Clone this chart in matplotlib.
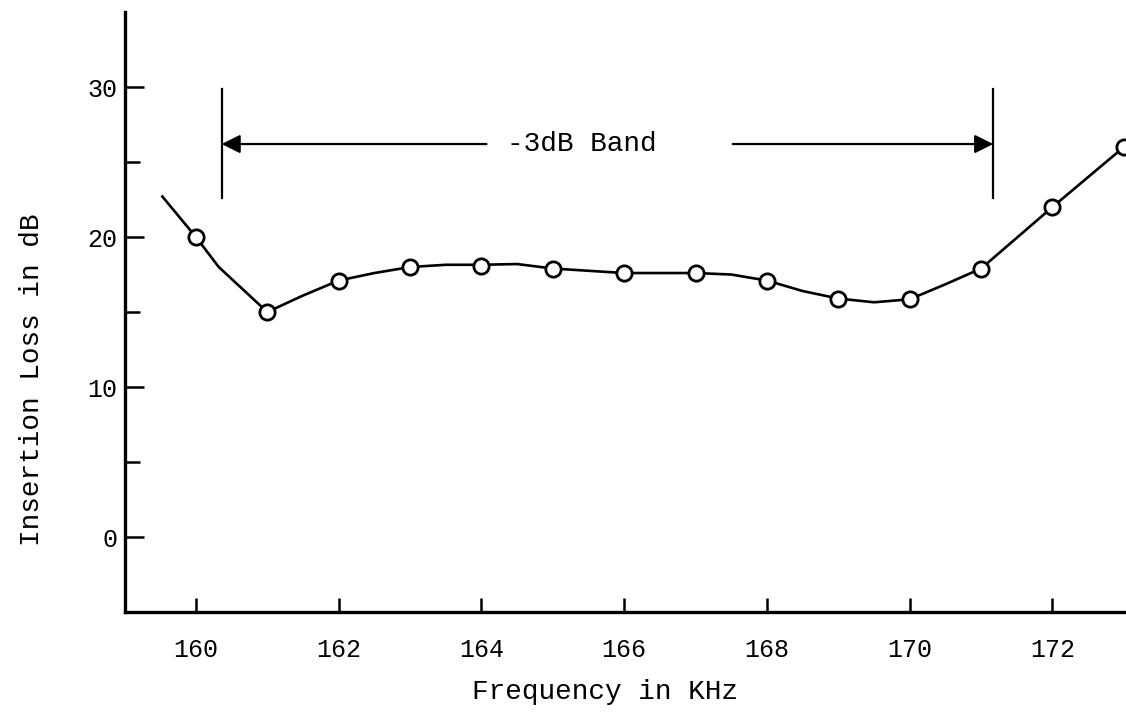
import matplotlib
matplotlib.use("Agg")
import matplotlib.pyplot as plt

# measured points (KHz, dB)
freq = [160, 161, 162, 163, 164, 165, 166, 167, 168, 169, 170, 171, 172, 173]
loss = [20.0, 15.0, 17.1, 18.0, 18.1, 17.9, 17.6, 17.6, 17.1, 15.9, 15.85, 17.9, 22.0, 26.0]

# hand-drawn smooth curve
curve_f = [159.53, 160, 160.32, 161, 161.5, 162, 162.5, 163, 163.5, 164, 164.5,
           165, 165.5, 166, 166.5, 167, 167.5, 168, 168.5, 169, 169.5, 170,
           170.5, 171, 171.5, 172, 172.5, 173]
curve_l = [22.7, 20.0, 18.0, 15.0, 16.1, 17.1, 17.6, 18.0, 18.15, 18.15, 18.2,
           17.9, 17.75, 17.6, 17.6, 17.6, 17.5, 17.1, 16.4, 15.9, 15.65, 15.85,
           16.85, 17.9, 19.95, 22.0, 24.0, 26.0]

# -3dB band markers
band_edges = [160.36, 171.17]
band_y = 26.2
band_tick = [22.6, 29.9]
band_gap = [164.07, 167.52]
band_label = "-3dB Band"

font = "Liberation Mono"
fs_label = 20
fs_tick = 18

fig = plt.figure(figsize=(11.26, 7.12), dpi=100)
ax = fig.add_axes([0.1106, 0.1404, 0.8894, 0.8427])

ax.plot(curve_f, curve_l, color="black", lw=1.9, zorder=2)
ax.plot(freq, loss, "o", ms=11, mfc="white", mec="black", mew=2.0, zorder=3)

# band brackets
for x in band_edges:
    ax.plot([x, x], band_tick, color="black", lw=1.6)
for edge, start in zip(band_edges, band_gap):
    ax.annotate("", xy=(edge, band_y), xytext=(start, band_y),
                arrowprops=dict(arrowstyle="-|>", color="black", lw=1.6,
                                mutation_scale=28, shrinkA=0, shrinkB=0))
ax.text(165.41, band_y, band_label, ha="center", va="center",
        fontsize=fs_label, family=font)

ax.set_xlim(159.0, 173.03)
ax.set_ylim(-5, 35)
ax.set_xticks(range(160, 173, 2))
ax.set_yticks([0, 10, 20, 30])
ax.set_yticks([5, 15, 25], minor=True)

for side in ["top", "right"]:
    ax.spines[side].set_visible(False)
for side in ["left", "bottom"]:
    ax.spines[side].set_linewidth(2.4)

ax.tick_params(axis="both", which="both", direction="in", width=1.8,
               labelsize=fs_tick)
ax.tick_params(axis="x", which="major", length=10, pad=19)
ax.tick_params(axis="y", which="major", length=14, pad=5)
ax.tick_params(axis="y", which="minor", length=11)
for lab in ax.get_xticklabels() + ax.get_yticklabels():
    lab.set_family(font)

ax.set_xlabel("Frequency in KHz", fontsize=fs_label, family=font, va="center")
ax.set_ylabel("Insertion Loss in dB", fontsize=fs_label, family=font, va="center")
ax.xaxis.set_label_coords(0.48, -0.133)
ax.yaxis.set_label_coords(-0.092, 0.387)

fig.savefig("out.png", dpi=100)
